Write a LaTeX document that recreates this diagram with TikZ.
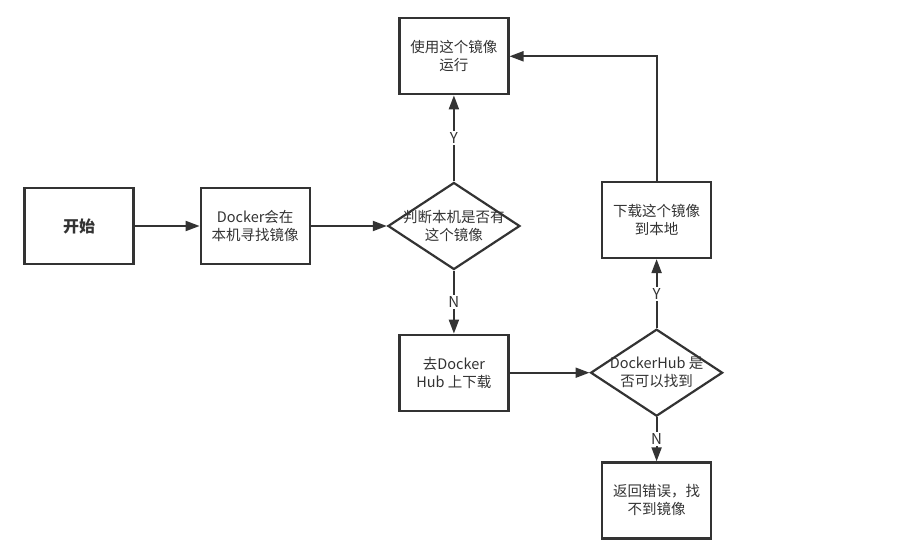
\documentclass[tikz,border=0pt]{standalone}
\usepackage{fontspec}
\setmainfont{Noto Sans CJK SC}
\usetikzlibrary{arrows.meta,positioning,shapes.geometric}
\definecolor{linegray}{HTML}{333333}

\begin{document}
\begin{tikzpicture}[x=1pt,y=1pt,color=linegray,
box/.style={rectangle,draw,line width=2.2pt,minimum width=109pt,minimum height=76pt,align=center,font=\fontsize{14.5}{18}\selectfont},
decide/.style={diamond,draw,line width=2.2pt,aspect=1.5,inner sep=-6pt,minimum width=132pt,minimum height=87pt,align=center,font=\fontsize{14.5}{18}\selectfont},
flow/.style={line width=2pt,-{Triangle[length=14pt,width=10pt]}},
yn/.style={fill=white,font=\fontsize{15}{17}\selectfont,inner sep=1.5pt}]
\useasboundingbox (0,0) rectangle (923,-556);
% boxes and decisions
\node[box,font=\fontsize{16}{18}\selectfont\bfseries] (start) at (79,-226) {开始};
\node[box,right=65pt of start] (search) {Docker会在\\本机寻找镜像};
\node[decide,right=76pt of search] (local) {判断本机是否有\\这个镜像};
\node[box,above=86pt of local] (run) {使用这个镜像\\运行};
\node[box,below=63pt of local] (hub) {去Docker\\Hub 上下载};
\node[decide,right=80pt of hub] (found) {DockerHub 是\\否可以找到};
\node[box,above=69pt of found] (pull) {下载这个镜像\\到本地};
\node[box,below=44pt of found] (fail) {返回错误，找\\不到镜像};
% connectors
\draw[flow] (start) -- (search);
\draw[flow] (search) -- (local);
\draw[flow] (local) -- node[yn] {Y} (run);
\draw[flow] (local) -- node[yn] {N} (hub);
\draw[flow] (hub) -- (found);
\draw[flow] (found) -- node[yn] {Y} (pull);
\draw[flow] (found) -- node[yn] {N} (fail);
\draw[flow] (pull) |- (run);
\end{tikzpicture}
\end{document}
